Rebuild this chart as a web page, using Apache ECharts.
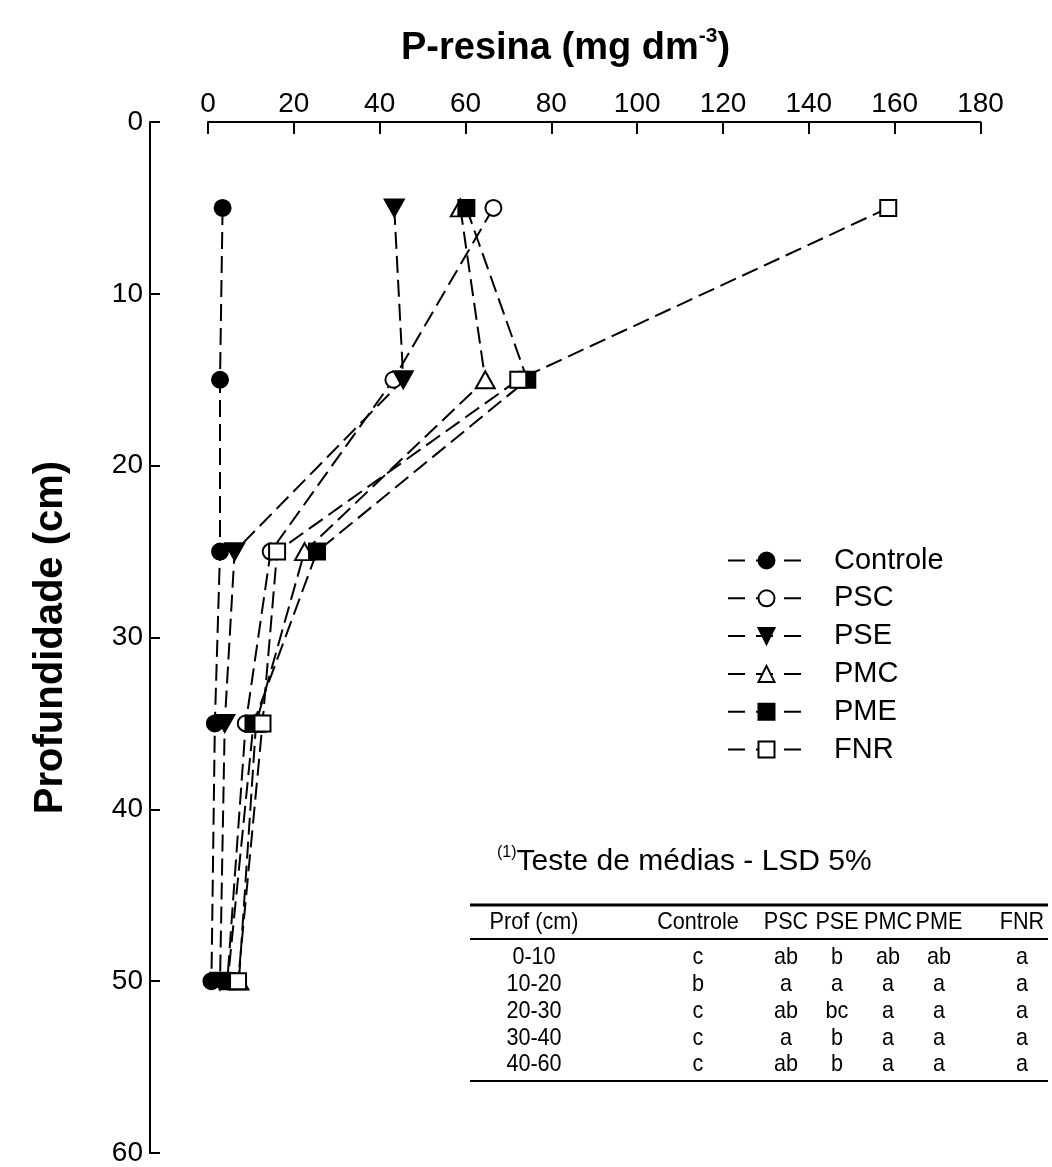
<!DOCTYPE html>
<html>
<head>
<meta charset="utf-8">
<script src="https://cdn.jsdelivr.net/npm/echarts@6/dist/echarts.min.js"></script>
<style>
html, body { margin: 0; padding: 0; background: #fff; }
#chart { width: 1052px; height: 1167px; }
</style>
</head>
<body>
<div id="chart"></div>
<script>
// Soil depth (cm) of each sampled layer midpoint
const depths = [5, 15, 25, 35, 50];

// Resin-extractable P (mg dm-3) per treatment, one value per depth
const controle = [3.4, 2.8, 2.8, 1.6, 0.8];
const psc = [66.5, 43.2, 14.6, 8.8, 4.5];
const pse = [43.4, 45.5, 6.2, 3.9, 2.8];
const pmc = [58.8, 64.6, 22.5, 11.2, 7.2];
const pme = [60.2, 74.4, 25.4, 10.6, 4.6];
const fnr = [158.5, 72.3, 16.1, 12.7, 7.0];

// Axis ranges and tick steps
const xMax = 180, xStep = 20;
const yMax = 60, yStep = 10;

// Mean-comparison letters (LSD 5%)
const tableTitle = 'Teste de médias - LSD 5%';
const tableHeader = ['Prof (cm)', 'Controle', 'PSC', 'PSE', 'PMC', 'PME', 'FNR'];
const tableRows = [
  ['0-10',  'c', 'ab', 'b',  'ab', 'ab', 'a'],
  ['10-20', 'b', 'a',  'a',  'a',  'a',  'a'],
  ['20-30', 'c', 'ab', 'bc', 'a',  'a',  'a'],
  ['30-40', 'c', 'a',  'b',  'a',  'a',  'a'],
  ['40-60', 'c', 'ab', 'b',  'a',  'a',  'a']
];

const FONT = "'Liberation Sans', Arial, Helvetica, sans-serif";

const treatments = [
  { name: 'Controle', values: controle, symbol: 'circle',   size: 16,       fill: '#000' },
  { name: 'PSC',      values: psc,      symbol: 'circle',   size: 16,       fill: '#fff' },
  { name: 'PSE',      values: pse,      symbol: 'triangle', size: [19, 17], fill: '#000', rotate: 180 },
  { name: 'PMC',      values: pmc,      symbol: 'triangle', size: [19, 17], fill: '#fff' },
  { name: 'PME',      values: pme,      symbol: 'rect',     size: 16,       fill: '#000' },
  { name: 'FNR',      values: fnr,      symbol: 'rect',     size: 16,       fill: '#fff' }
];

const series = treatments.map(t => ({
  name: t.name,
  type: 'line',
  data: t.values.map((v, i) => [v, depths[i]]),
  symbol: t.symbol,
  symbolSize: t.size,
  symbolRotate: t.rotate || 0,
  showAllSymbol: true,
  lineStyle: { color: '#000', width: 2, type: [17, 7] },
  itemStyle: { color: t.fill, borderColor: '#000', borderWidth: 2 },
  emphasis: { disabled: true },
  animation: false
}));

// Letters table drawn as text and horizontal rules
const colX = [534, 698, 786, 837, 888, 939, 1022];
const headerY = 922;
const rowY = [957, 984, 1011, 1038, 1064];
const tableFont = '24px ' + FONT;
const squeeze = 0.9;
const tableChildren = [];
tableChildren.push({
  type: 'text', x: 497, y: 862,
  style: {
    text: '{sup|(1)}{main|' + tableTitle + '}',
    verticalAlign: 'middle', fill: '#000',
    rich: {
      sup: { fontSize: 16, fontFamily: FONT, lineHeight: 18, verticalAlign: 'top' },
      main: { fontSize: 30, fontFamily: FONT, lineHeight: 34 }
    }
  }
});
tableChildren.push({ type: 'line', shape: { x1: 470, y1: 905, x2: 1048, y2: 905 }, style: { stroke: '#000', lineWidth: 3 } });
tableChildren.push({ type: 'line', shape: { x1: 470, y1: 939, x2: 1048, y2: 939 }, style: { stroke: '#000', lineWidth: 2 } });
tableChildren.push({ type: 'line', shape: { x1: 470, y1: 1081, x2: 1048, y2: 1081 }, style: { stroke: '#000', lineWidth: 2 } });
function cellText(txt, x, y) {
  return { type: 'text', x: x, y: y, scaleX: squeeze,
    style: { text: txt, font: tableFont, fill: '#000', align: 'center', verticalAlign: 'middle' } };
}
tableHeader.forEach((h, j) => tableChildren.push(cellText(h, colX[j], headerY)));
tableRows.forEach((row, i) => row.forEach((cell, j) => tableChildren.push(cellText(cell, colX[j], rowY[i]))));

const chart = echarts.init(document.getElementById('chart'), null, { renderer: 'canvas' });
chart.setOption({
  animation: false,
  backgroundColor: '#fff',
  textStyle: { fontFamily: FONT, color: '#000' },
  title: {
    text: '{m|P-resina (mg dm}{s|-3}{m|)}',
    left: 396, top: 21,
    textStyle: {
      rich: {
        m: { fontSize: 38, fontWeight: 'bold', fontFamily: FONT, color: '#000', lineHeight: 46 },
        s: { fontSize: 21, fontWeight: 'bold', fontFamily: FONT, color: '#000', lineHeight: 26, verticalAlign: 'top' }
      }
    }
  },
  grid: { left: 208, right: 71.5, top: 122, bottom: 13, containLabel: false },
  xAxis: {
    type: 'value', position: 'top', min: 0, max: xMax, interval: xStep,
    axisLine: { show: true, onZero: false, lineStyle: { color: '#000', width: 2 } },
    axisTick: { show: true, inside: true, length: 12, lineStyle: { color: '#000', width: 2 } },
    axisLabel: { color: '#000', fontSize: 28, fontFamily: FONT, margin: 4 },
    splitLine: { show: false }
  },
  yAxis: {
    type: 'value', inverse: true, min: 0, max: yMax, interval: yStep, offset: 58,
    name: 'Profundidade (cm)', nameLocation: 'middle', nameRotate: 90, nameGap: 79,
    nameTextStyle: { fontSize: 40, fontWeight: 'bold', fontFamily: FONT, color: '#000' },
    axisLine: { show: true, onZero: false, lineStyle: { color: '#000', width: 2 } },
    axisTick: { show: true, inside: true, length: 10, lineStyle: { color: '#000', width: 2 } },
    axisLabel: { color: '#000', fontSize: 28, fontFamily: FONT, margin: 7 },
    splitLine: { show: false }
  },
  legend: {
    orient: 'vertical', left: 722, top: 541,
    itemWidth: 77, itemHeight: 20, itemGap: 8.8,
    lineStyle: { type: [17, 11] },
    textStyle: { fontSize: 29, fontFamily: FONT, color: '#000', lineHeight: 29, padding: [0, 0, 0, 24] },
    data: treatments.map(t => t.name),
    selectedMode: false
  },
  series: series,
  graphic: [{ type: 'group', children: tableChildren }]
});
</script>
</body>
</html>
